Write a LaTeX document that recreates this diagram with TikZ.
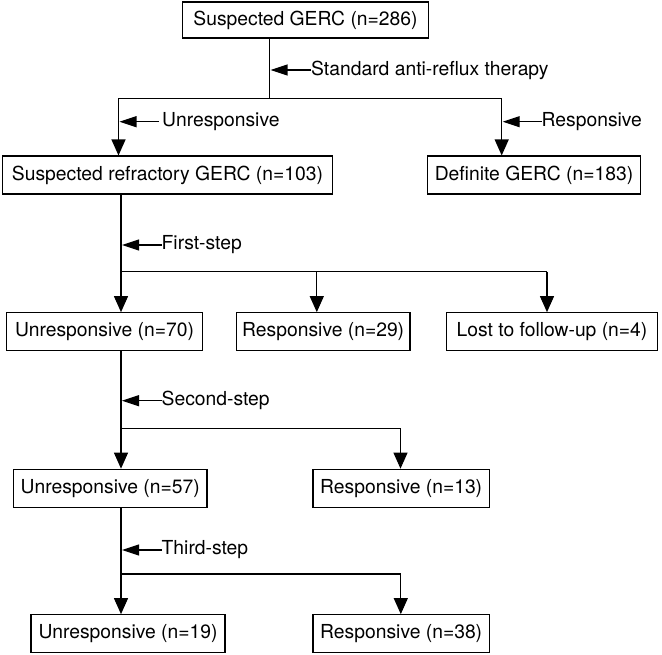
\documentclass[tikz,border=0pt]{standalone}
\usepackage{fontspec}
\setmainfont{TeX Gyre Heros}
\usetikzlibrary{arrows.meta}
\begin{document}
\begin{tikzpicture}[x=1pt,y=-1pt,
  box/.style={draw, line width=1.1pt, inner sep=0pt, minimum height=38pt,
    font=\fontsize{19.3}{22}\selectfont, anchor=center},
  lbl/.style={font=\fontsize{19.3}{22}\selectfont, anchor=west, inner sep=0pt},
  conn/.style={line width=1.1pt},
  varr/.style={conn, -{Triangle[length=16pt,width=14pt]}},
  harr/.style={conn, -{Triangle[length=17pt,width=11pt]}},
]
\useasboundingbox (0,0) rectangle (662,654);

% boxes
\node[box, minimum width=246pt, minimum height=36pt] (n1) at (305.5,20) {Suspected GERC (n=286)};
\node[box, minimum width=330pt] (n2) at (167.5,175) {Suspected refractory GERC (n=103)};
\node[box, minimum width=213pt] (n3) at (534,175) {Definite GERC (n=183)};
\node[box, minimum width=196pt] (n4) at (104.5,331.7) {Unresponsive (n=70)};
\node[box, minimum width=173.5pt] (n5) at (323.2,331.7) {Responsive (n=29)};
\node[box, minimum width=211pt] (n6) at (552,331.7) {Lost to follow-up (n=4)};
\node[box, minimum width=193.5pt] (n7) at (110.2,488.2) {Unresponsive (n=57)};
\node[box, minimum width=176.5pt] (n8) at (401.2,488.2) {Responsive (n=13)};
\node[box, minimum width=194pt] (n9) at (128,633.7) {Unresponsive (n=19)};
\node[box, minimum width=176.5pt] (n10) at (401.2,633.7) {Responsive (n=38)};

% level 1
\coordinate (s1) at (269.5,98.3);
\coordinate (bl) at (118.5,98.3);
\coordinate (br) at (501.7,98.3);
\draw[conn] (n1.south -| s1) -- (s1);
\draw[conn] (bl) -- (br);
\draw[varr] (bl) -- (bl |- n2.north);
\draw[varr] (br) -- (br |- n3.north);
\node[lbl] (l1) at (311,70) {Standard anti-reflux therapy};
\draw[harr] (l1.west) -- ([xshift=1pt]s1 |- l1.west);
\node[lbl] (l2) at (162,121.7) {Unresponsive};
\draw[harr] ([xshift=-3pt]l2.west) -- ([xshift=1pt]bl |- l2.west);
\node[lbl] (l3) at (541.5,121.7) {Responsive};
\draw[harr] (l3.west) -- ([xshift=1pt]br |- l3.west);

% level 2
\coordinate (s2) at (121,271.7);
\coordinate (b2m) at (316.8,271.7);
\coordinate (b2r) at (547,271.7);
\draw[conn] (n2.south -| s2) -- (s2);
\draw[conn] (s2) -- (b2r);
\draw[varr] (s2) -- (s2 |- n4.north);
\draw[varr] (b2m) -- (b2m |- n5.north);
\draw[varr] (b2r) -- (b2r |- n6.north);
\node[lbl] (l4) at (161.5,245) {First-step};
\draw[harr] (l4.west) -- ([xshift=1pt]s2 |- l4.west);

% level 3
\coordinate (s3) at (121,428.3);
\coordinate (b3r) at (400.5,428.3);
\draw[conn] (n4.south -| s3) -- (s3);
\draw[conn] (s3) -- (b3r);
\draw[varr] (s3) -- (s3 |- n7.north);
\draw[varr] (b3r) -- (b3r |- n8.north);
\node[lbl] (l5) at (161.5,400.7) {Second-step};
\draw[harr] (l5.west) -- ([xshift=1pt]s3 |- l5.west);

% level 4
\coordinate (s4) at (121,574);
\coordinate (b4r) at (400.8,574);
\draw[conn] (n7.south -| s4) -- (s4);
\draw[conn] (s4) -- (b4r);
\draw[varr] (s4) -- (s4 |- n9.north);
\draw[varr] (b4r) -- (b4r |- n10.north);
\node[lbl] (l6) at (161.5,550) {Third-step};
\draw[harr] (l6.west) -- ([xshift=1pt]s4 |- l6.west);
\end{tikzpicture}
\end{document}
